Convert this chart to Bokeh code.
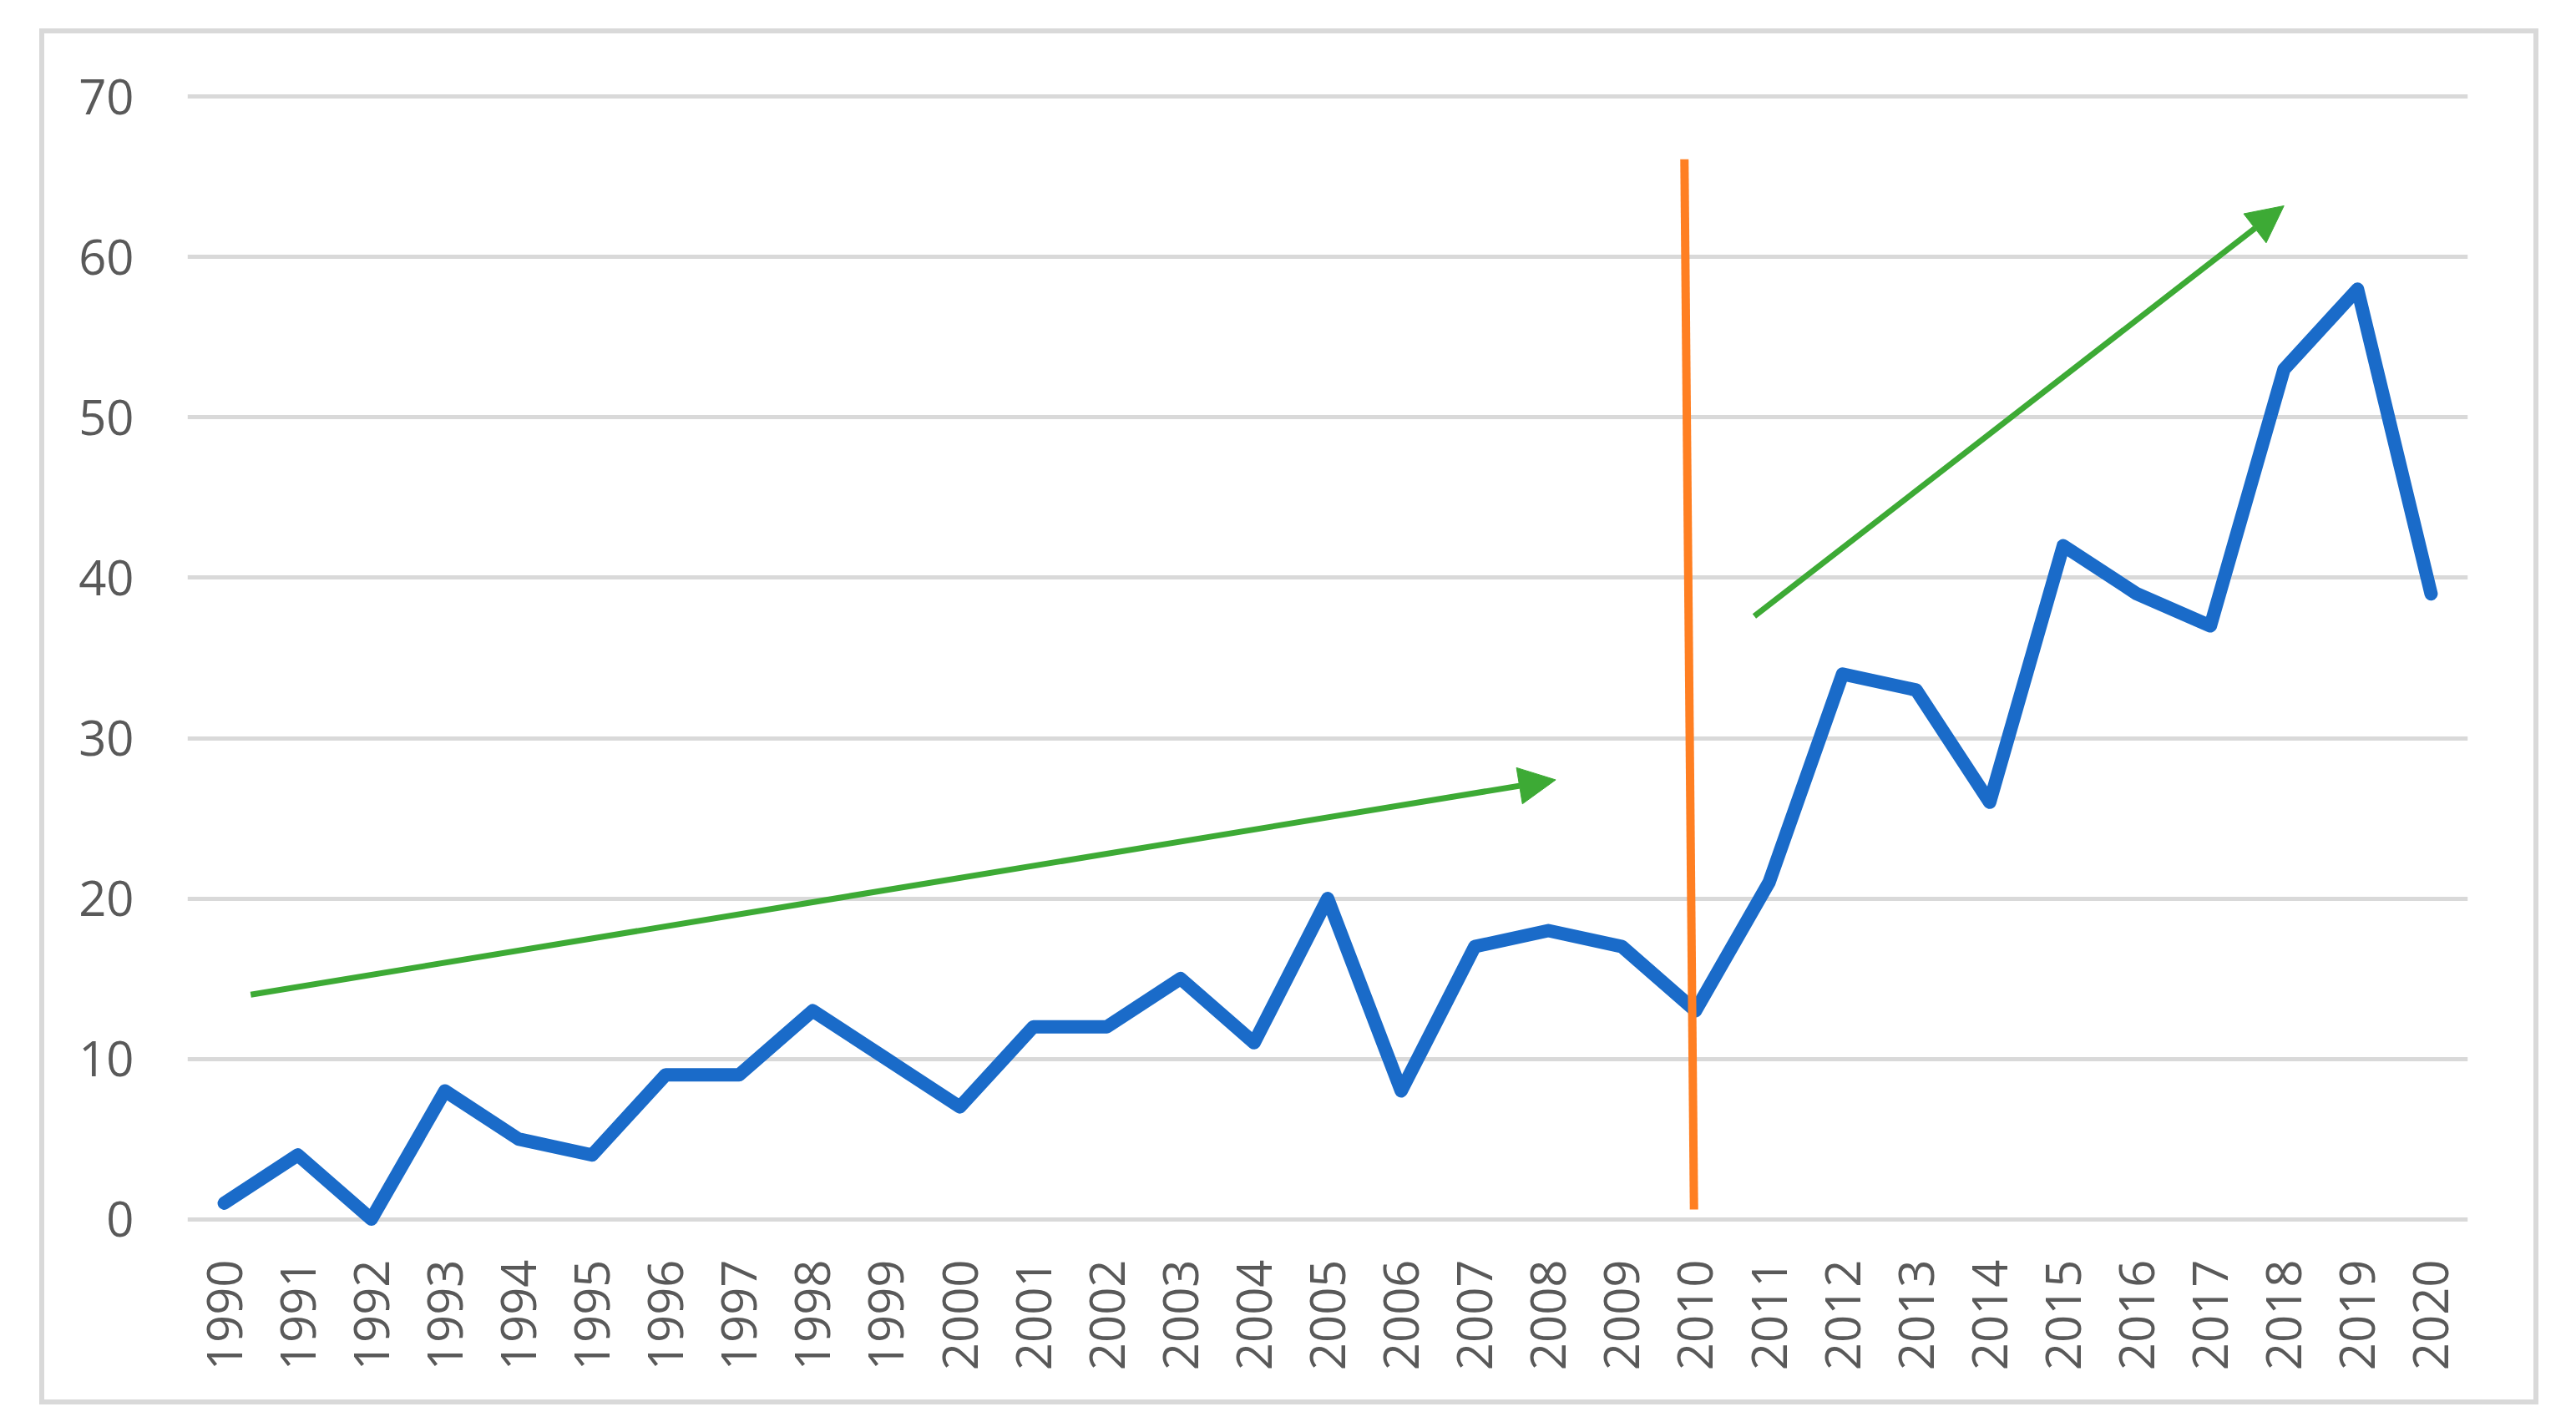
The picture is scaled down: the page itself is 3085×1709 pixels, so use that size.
import math
from bokeh.plotting import figure
from bokeh.models import Range1d, FixedTicker, Arrow, NormalHead, InlineStyleSheet
from bokeh.embed import file_html
from bokeh.resources import INLINE

# ---- data ----
years = list(range(1990, 2021))
counts = [1, 4, 0, 8, 5, 4, 9, 9, 13, 10, 7, 12, 12, 15, 11, 20, 8, 17, 18, 17,
          13, 21, 34, 33, 26, 42, 39, 37, 53, 58, 39]
y_ticks = [0, 10, 20, 30, 40, 50, 60, 70]

# annotation lines (data coordinates)
divider_x = [2009.85, 2009.98]
divider_y = [66.1, 0.6]
trend1 = (1990.36, 14.0, 2008.1, 27.4)
trend2 = (2010.8, 37.6, 2018.0, 63.2)

W, H = 3069, 1693
p = figure(width=W, height=H, output_backend="svg", toolbar_location=None,
           x_range=Range1d(1989.5, 2020.5), y_range=Range1d(-2, 72),
           min_border_left=224, min_border_right=114,
           min_border_top=77, min_border_bottom=195)
p.background_fill_color = "white"
p.border_fill_color = "white"
p.outline_line_color = None

font = "Open Sans"
lab_color = "#595959"

# axes
p.xaxis.ticker = FixedTicker(ticks=years)
p.xaxis.major_label_orientation = math.pi / 2
p.xaxis.major_label_text_font = font
p.xaxis.major_label_text_font_size = "58px"
p.xaxis.major_label_text_color = lab_color
p.xaxis.major_label_standoff = 4
p.xaxis.axis_line_color = None
p.xaxis.major_tick_line_color = None
p.xaxis.minor_tick_line_color = None

p.yaxis.ticker = FixedTicker(ticks=y_ticks)
p.yaxis.major_label_text_font = font
p.yaxis.major_label_text_font_size = "58px"
p.yaxis.major_label_text_color = lab_color
p.yaxis.major_label_standoff = 58
p.yaxis.axis_line_color = None
p.yaxis.major_tick_line_color = None
p.yaxis.minor_tick_line_color = None

p.xgrid.grid_line_color = None
p.ygrid.ticker = FixedTicker(ticks=y_ticks)
p.ygrid.grid_line_color = "#D9D9D9"
p.ygrid.grid_line_width = 5

# main series
p.line(years, counts, line_color="#1A6BC9", line_width=16,
       line_join="round", line_cap="round")

# divider
p.line(divider_x, divider_y, line_color="#FF7F22", line_width=10)

# trend arrows
green = "#3DAA35"
for (x0, y0, x1, y1) in (trend1, trend2):
    p.add_layout(Arrow(x_start=x0, y_start=y0, x_end=x1, y_end=y1,
                       line_color=green, line_width=7,
                       end=NormalHead(size=44, fill_color=green,
                                      line_color=green, line_width=1)))

# outer chart border (drawn by CSS around the chart)
p.stylesheets = [InlineStyleSheet(css="""
:host { position: relative; }
:host::after {
  content: "";
  position: absolute;
  left: 47px; top: 34px;
  width: 2981px; height: 1636px;
  border: 6px solid #D9D9D9;
  pointer-events: none;
  z-index: 10;
}
""")]

open("out.html", "w").write(file_html(p, INLINE))
